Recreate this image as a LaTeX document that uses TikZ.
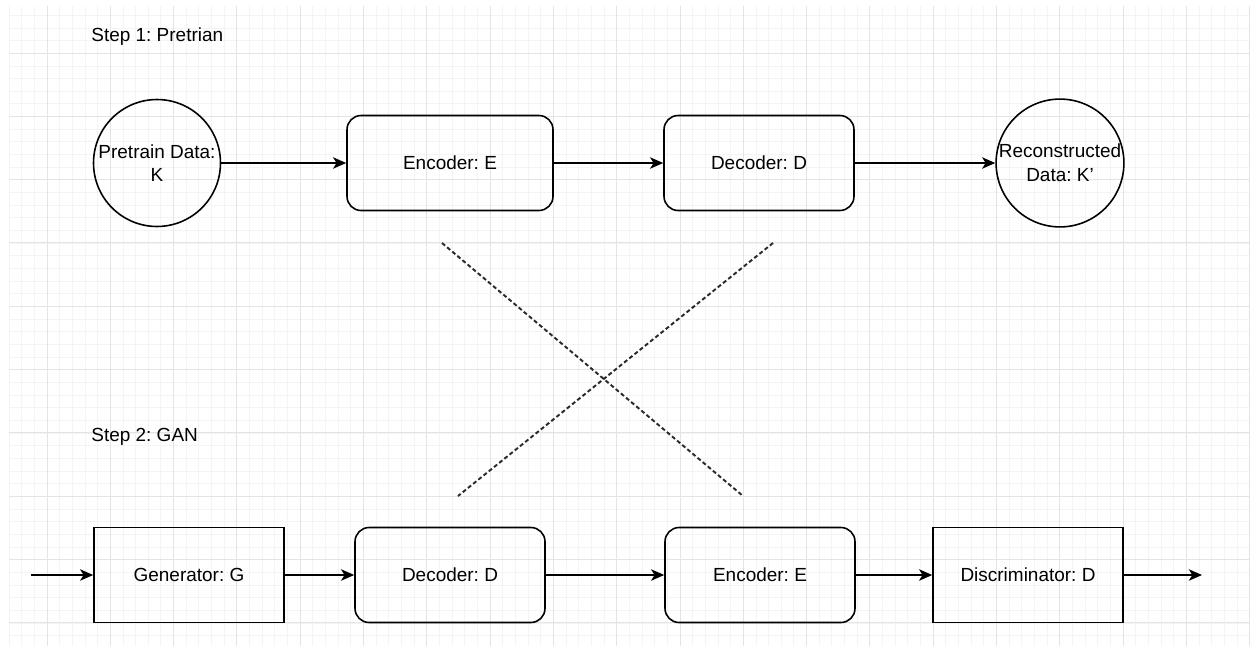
\documentclass[tikz,border=0pt]{standalone}
\usepackage{fontspec}
\setmainfont{Liberation Sans}
\usetikzlibrary{arrows.meta, positioning}
\usepackage{xcolor}
\definecolor{gridmajor}{HTML}{E4E4E4}
\definecolor{gridminor}{HTML}{F4F4F4}
\definecolor{dashgray}{HTML}{2A2A2A}
\frenchspacing

\begin{document}
\begin{tikzpicture}[x=0.02cm, y=-0.02cm, >={Stealth[length=7.5pt, width=6.5pt, inset=2pt]}, font=\fontsize{10.8}{13.5}\selectfont]
	\tikzstyle{round} = [draw=black, line width=0.9pt, circle, minimum size=2.54cm, inner sep=0pt, align=center]
	\tikzstyle{block} = [draw=black, line width=0.9pt, rounded corners=8pt, minimum width=3.8cm, minimum height=1.9cm]
	\tikzstyle{squarebox} = [draw=black, line width=0.9pt, minimum width=3.8cm, minimum height=1.9cm]
	\tikzstyle{invis} = [draw=none, inner sep=0pt, anchor=west]
	\tikzstyle{link} = [->, line width=0.9pt]
	\tikzstyle{crossline} = [dashgray, line width=1.1pt, dash pattern=on 2.3pt off 1.5pt]

	\useasboundingbox (0,0) rectangle (1250,646);

	% background grid
	\foreach \i in {0,...,98}
		\draw[gridminor, line width=0.5pt] ({9+12.66*\i},6) -- ({9+12.66*\i},646);
	\foreach \j in {0,...,49}
		\draw[gridminor, line width=0.5pt] (9,{15.3+12.66*\j}) -- (1250,{15.3+12.66*\j});
	\foreach \i in {0,...,19}
		\draw[gridmajor, line width=0.5pt] ({47+63.3*\i},6) -- ({47+63.3*\i},646);
	\foreach \j in {0,...,9}
		\draw[gridmajor, line width=0.5pt] (9,{53+63.3*\j}) -- (1250,{53+63.3*\j});

	% step 1
	\node[invis]		at (91, 37)		(s1)	{Step 1: Pretrian};
	\node[round]		at (157, 163)	(pre)	{Pretrain Data:\\K};
	\node[block, minimum width=4.12cm]	at (450, 163)	(enc1)	{Encoder: E};
	\node[block]		at (759, 163)	(dec1)	{Decoder: D};
	\node[round]		at (1060, 163)	(rec)	{Reconstructed\\Data: K'};

	% step 2
	\node[invis]		at (91, 437)	(s2)	{Step 2: GAN};
	\node[squarebox]	at (189, 575)	(gen)	{Generator: G};
	\node[block]		at (450, 575)	(dec2)	{Decoder: D};
	\node[block]		at (760, 575)	(enc2)	{Encoder: E};
	\node[squarebox]	at (1028, 575)	(dis)	{Discriminator: D};
	\coordinate (in)	at (31, 575);
	\coordinate (out)	at (1202, 575);

	\path[link]
	(pre)	edge	(enc1)
	(enc1)	edge	(dec1)
	(dec1)	edge	(rec)
	(in)	edge	(gen)
	(gen)	edge	(dec2)
	(dec2)	edge	(enc2)
	(enc2)	edge	(dis)
	(dis)	edge	(out);

	% swap of encoder and decoder
	\coordinate (xa) at (442, 243);
	\coordinate (xb) at (743, 496);
	\coordinate (xc) at (773, 243);
	\coordinate (xd) at (458, 496);
	\draw[crossline] (xa) -- (xb);
	\draw[crossline] (xc) -- (xd);
\end{tikzpicture}
\end{document}
